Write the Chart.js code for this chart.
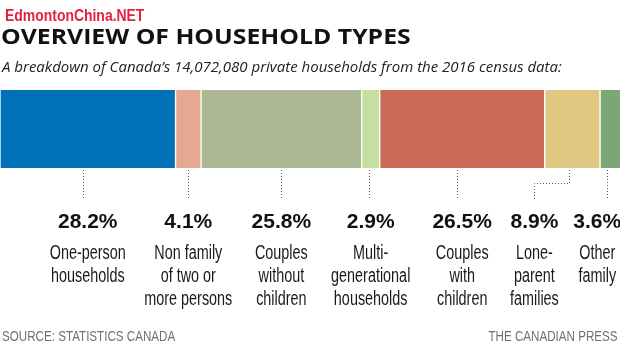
<!DOCTYPE html>
<html><head><meta charset="utf-8">
<script src="https://cdn.jsdelivr.net/npm/chart.js@4.4.1/dist/chart.umd.min.js"></script>
<style>
html,body{margin:0;padding:0;background:#fff;width:620px;height:357px;overflow:hidden;}
#wrap{position:relative;width:620px;height:357px;}
canvas{position:absolute;left:0;top:0;}
.t{position:absolute;white-space:nowrap;transform-origin:0 0;line-height:1;}
#wm{left:5px;top:6px;font:bold 17px "Liberation Sans";color:#e5203c;transform:scaleX(0.82);}
#title{left:1px;top:20px;font:bold 22px "Open Sans";color:#111;}
#sub{left:2px;top:56px;font:italic 15px "Open Sans";color:#222;}
#src{left:2px;top:328px;font:14px "Liberation Sans";color:#707070;transform:scaleX(0.83);}
#cp{right:2px;top:328px;font:14px "Liberation Sans";color:#707070;transform:scaleX(0.83);transform-origin:100% 0;}
</style></head>
<body><div id="wrap">
<canvas id="c" width="620" height="357"></canvas>
<div class="t" id="wm">EdmontonChina.NET</div>
<div class="t" id="title">OVERVIEW OF HOUSEHOLD TYPES</div>
<div class="t" id="sub">A breakdown of Canada’s 14,072,080 private households from the 2016 census data:</div>
<div class="t" id="src">SOURCE: STATISTICS CANADA</div>
<div class="t" id="cp">THE CANADIAN PRESS</div>
</div>
<script>
const categories = ["One-person\nhouseholds","Non family\nof two or\nmore persons","Couples\nwithout\nchildren","Multi-\ngenerational\nhouseholds","Couples\nwith\nchildren","Lone-\nparent\nfamilies","Other\nfamily"];
const shares = [28.2, 4.1, 25.8, 2.9, 26.5, 8.9, 3.6];
const colors = ["#0070b8","#e6a891","#acb893","#c4dfa0","#cc6b55","#e2c983","#7ca677"];

// stretch the title to the reference's width
const t = document.getElementById('title');
t.style.transform = 'scaleX(' + (410 / t.offsetWidth) + ')';

const segLabels = {
  id: 'segLabels',
  afterDatasetsDraw(chart, args, opts) {
    const ctx = chart.ctx;
    chart.data.datasets.forEach((ds, i) => {
      const el = chart.getDatasetMeta(i).data[0];
      const segX = (el.x + el.base) / 2;
      const bottom = el.y + el.height / 2;
      const off = opts.offsets[i] || 0;
      const lx = segX + off;
      const lineX = segX + (opts.leaderShift[i] || 0);
      ctx.save();
      ctx.strokeStyle = '#555';
      ctx.lineWidth = 1;
      ctx.setLineDash([1, 2]);
      ctx.beginPath();
      const x0 = Math.round(lineX) + 0.5, x1 = Math.round(lx) + 0.5;
      if (Math.abs(off) > 20) {
        ctx.moveTo(x0, bottom + 2); ctx.lineTo(x0, bottom + 15.5);
        ctx.lineTo(x1, bottom + 15.5); ctx.lineTo(x1, bottom + 31);
      } else {
        ctx.moveTo(x0, bottom + 2); ctx.lineTo(x0, bottom + 31);
      }
      ctx.stroke();
      ctx.setLineDash([]);
      ctx.fillStyle = '#111';
      ctx.textAlign = 'center';
      ctx.textBaseline = 'alphabetic';
      ctx.font = 'bold 21px "Liberation Sans"';
      ctx.fillText(shares[i].toFixed(1) + '%', lx, bottom + 60);
      ctx.font = '20px "Liberation Sans"';
      ctx.fillStyle = '#1a1a1a';
      categories[i].split('\n').forEach((line, k) => {
        ctx.save();
        ctx.translate(lx, bottom + 91 + k * 23);
        ctx.scale(0.72, 1);
        ctx.fillText(line, 0, 0);
        ctx.restore();
      });
      ctx.restore();
    });
  }
};

new Chart(document.getElementById('c'), {
  type: 'bar',
  data: {
    labels: ['Households'],
    datasets: shares.map((v, i) => ({
      label: categories[i].replace(/\n/g, ' '),
      data: [v],
      backgroundColor: colors[i],
      borderColor: '#ffffff',
      borderWidth: {left: 1, right: 1, top: 0, bottom: 0},
      borderSkipped: false,
      barPercentage: 1,
      categoryPercentage: 1
    }))
  },
  options: {
    indexAxis: 'y',
    responsive: false,
    animation: false,
    devicePixelRatio: 1,
    layout: {padding: {top: 90, bottom: 189, left: 0, right: 0}},
    scales: {
      x: {stacked: true, display: false, min: 0, max: 99.6},
      y: {stacked: true, display: false}
    },
    plugins: {
      legend: {display: false},
      tooltip: {enabled: false},
      segLabels: {offsets: [0, 0, 0, 0, 0, -38, -14], leaderShift: [-5, 0, 0, -2, -5, -3, -4]}
    }
  },
  plugins: [segLabels]
});
</script>
</body></html>
